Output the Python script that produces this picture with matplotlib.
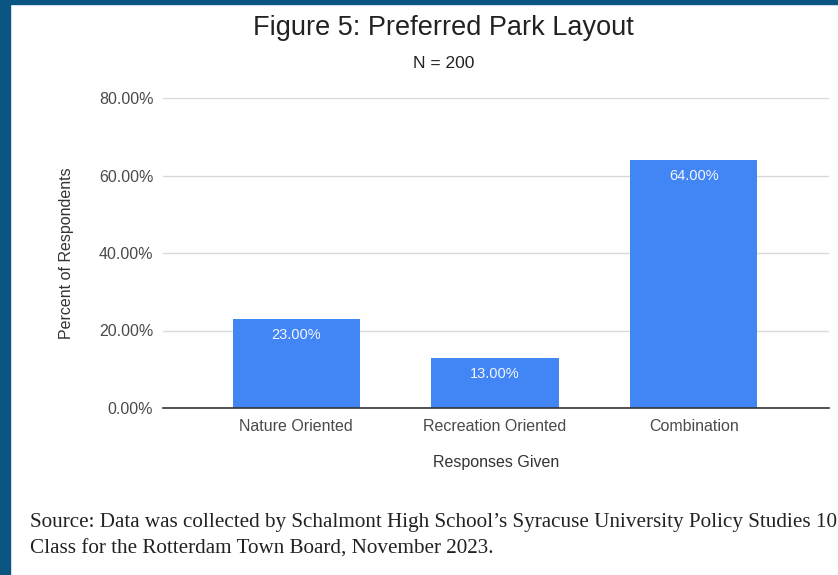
import matplotlib.pyplot as plt
from matplotlib.patches import Rectangle

plt.rcParams['font.family'] = ['Liberation Sans', 'DejaVu Sans']

# --- Data ---
categories = ["Nature Oriented", "Recreation Oriented", "Combination"]
percents = [23.0, 13.0, 64.0]
y_ticks = [0, 20, 40, 60, 80]

W, H = 838, 575
fig = plt.figure(figsize=(W / 100, H / 100), dpi=100)
fig.patch.set_facecolor("white")

# --- Slide border (left and top) ---
border = "#0b5583"
fig.patches.append(Rectangle((0, 0), 10 / W, 1, transform=fig.transFigure, color=border, zorder=10))
fig.patches.append(Rectangle((0, 1 - 4 / H), 1, 4 / H, transform=fig.transFigure, color=border, zorder=10))

# --- Axes placed in pixel coordinates ---
left, right, bottom, top = 163, 829, 408, 98
ax = fig.add_axes([left / W, 1 - bottom / H, (right - left) / W, (bottom - top) / H])

x = list(range(len(categories)))
bars = ax.bar(x, percents, width=0.64, color="#4285f4", zorder=3)
ax.set_xlim(-0.67, 2.68)
ax.set_ylim(0, 80)

ax.set_yticks(y_ticks)
ax.set_yticklabels([f"{v:.2f}%" for v in y_ticks])
ax.set_xticks(x)
ax.set_xticklabels(categories)
ax.tick_params(axis="both", length=0, labelsize=11.5, colors="#4a4a4a")
ax.tick_params(axis="y", pad=7)
ax.tick_params(axis="x", pad=8)

ax.grid(axis="y", color="#d9d9d9", linewidth=1, zorder=0)
for s in ["top", "right", "left"]:
    ax.spines[s].set_visible(False)
ax.spines["bottom"].set_color("#333333")
ax.spines["bottom"].set_linewidth(1.2)
ax.spines["bottom"].set_zorder(4)

# --- Value labels inside bars ---
for b, v in zip(bars, percents):
    ax.annotate(f"{v:.2f}%", (b.get_x() + b.get_width() / 2, v), xytext=(0, -11.5),
                textcoords="offset points", ha="center", va="center",
                color="#f4f7ff", fontsize=10.5, zorder=5)

ax.set_xlabel("Responses Given", fontsize=11.5, color="#333333", labelpad=15)
ax.set_ylabel("Percent of Respondents", fontsize=11.5, color="#333333", labelpad=18)

# --- Titles ---
fig.text(443.5 / W, 1 - 28 / H, "Figure 5: Preferred Park Layout", ha="center", va="center",
         fontsize=19.5, color="#222222")
fig.text(443.5 / W, 1 - 63 / H, "N = 200", ha="center", va="center", fontsize=12.5, color="#222222")

# --- Source note (runs off the right edge, as in the original slide) ---
src_font = dict(family="Liberation Serif", fontsize=15.2, color="#222222", ha="left", va="center")
fig.text(30 / W, 1 - 522 / H,
         "Source: Data was collected by Schalmont High School\u2019s Syracuse University Policy Studies 101",
         **src_font)
fig.text(30 / W, 1 - 549 / H, "Class for the Rotterdam Town Board, November 2023.", **src_font)

fig.savefig("out.png", dpi=100)
